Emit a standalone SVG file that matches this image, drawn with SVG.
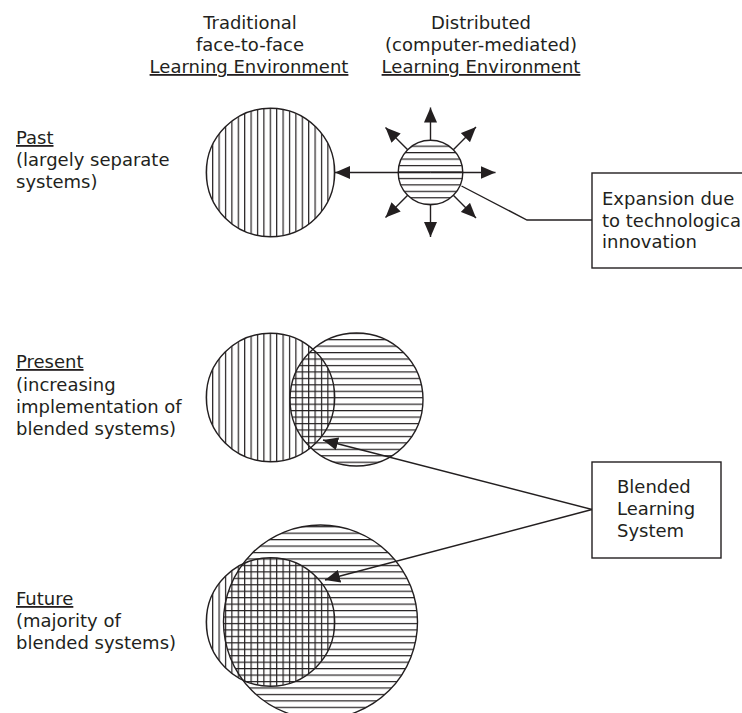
<svg xmlns="http://www.w3.org/2000/svg" width="742" height="713" viewBox="0 0 742 713">
<style>
text{font-family:"DejaVu Sans","Verdana",sans-serif;font-size:18px;fill:#231f20}
.c{text-anchor:middle}
.u{text-decoration:underline}
.ol{stroke:#231f20;stroke-width:1.4}
.ln{stroke:#231f20;stroke-width:1.4;fill:none}
.box{fill:#fff;stroke:#231f20;stroke-width:1.4}
</style>
<defs>
<pattern id="vl" patternUnits="userSpaceOnUse" x="218.5" y="0" width="6.4" height="10">
<rect x="0" y="0" width="1.2" height="10" fill="#231f20"/>
</pattern>
<pattern id="hl" patternUnits="userSpaceOnUse" x="0" y="171.4" width="10" height="6.45">
<rect x="0" y="0" width="10" height="1.2" fill="#231f20"/>
</pattern>
<marker id="ah" markerUnits="userSpaceOnUse" markerWidth="16" markerHeight="13" refX="15" refY="6.5" orient="auto">
<path d="M0,0 L15,6.5 L0,13 z" fill="#231f20"/>
</marker>
</defs>
<rect width="742" height="713" fill="#fff"/>

<g id="header-traditional">
<text class="c" x="250" y="29">Traditional</text>
<text class="c" x="250" y="51">face-to-face</text>
<text class="c u" x="249" y="73">Learning Environment</text>
</g>
<g id="header-distributed">
<text class="c" x="481" y="29">Distributed</text>
<text class="c" x="481" y="51">(computer-mediated)</text>
<text class="c u" x="481" y="73">Learning Environment</text>
</g>

<g id="label-past">
<text class="u" x="16" y="144">Past</text>
<text x="16" y="166">(largely separate</text>
<text x="16" y="188">systems)</text>
</g>
<g id="label-present">
<text class="u" x="16" y="368">Present</text>
<text x="16" y="390.5">(increasing</text>
<text x="16" y="413">implementation of</text>
<text x="16" y="435">blended systems)</text>
</g>
<g id="label-future">
<text class="u" x="16" y="605">Future</text>
<text x="16" y="627">(majority of</text>
<text x="16" y="649">blended systems)</text>
</g>

<g id="past-traditional">
<circle class="ol" cx="270.5" cy="172.5" r="64.2" fill="url(#vl)"/>
</g>
<g id="past-distributed">
<circle class="ol" cx="430.5" cy="172.5" r="32.3" fill="url(#hl)"/>
</g>

<g id="present-traditional">
<circle class="ol" cx="270.5" cy="397.5" r="64.2" fill="url(#vl)"/>
</g>
<g id="present-distributed">
<circle class="ol" cx="356.5" cy="399.5" r="66.5" fill="url(#hl)"/>
</g>

<g id="future-traditional">
<circle class="ol" cx="270.5" cy="622" r="64.2" fill="url(#vl)"/>
</g>
<g id="future-distributed">
<circle class="ol" cx="320.5" cy="622" r="97" fill="url(#hl)"/>
</g>

<g id="box-expansion">
<rect class="box" x="592" y="173" width="170" height="95"/>
<text x="602" y="205">Expansion due</text>
<text x="602" y="226.5">to technological</text>
<text x="602" y="248">innovation</text>
</g>
<g id="box-blended">
<rect class="box" x="592" y="462" width="129" height="96"/>
<text x="617" y="493">Blended</text>
<text x="617" y="515">Learning</text>
<text x="617" y="537">System</text>
</g>

<g id="connectors">
<line class="ln" x1="430.5" y1="172.5" x2="335" y2="172.5" marker-end="url(#ah)"/>
<line class="ln" x1="430.5" y1="172.5" x2="495.5" y2="172.5" marker-end="url(#ah)"/>
<line class="ln" x1="430.5" y1="140" x2="430.5" y2="107.5" marker-end="url(#ah)"/>
<line class="ln" x1="430.5" y1="205" x2="430.5" y2="237" marker-end="url(#ah)"/>
<line class="ln" x1="407.7" y1="149.7" x2="385.5" y2="127.5" marker-end="url(#ah)"/>
<line class="ln" x1="453.3" y1="149.7" x2="476" y2="127" marker-end="url(#ah)"/>
<line class="ln" x1="407.7" y1="195.3" x2="385.5" y2="217.5" marker-end="url(#ah)"/>
<line class="ln" x1="453.3" y1="195.3" x2="476" y2="218" marker-end="url(#ah)"/>
<polyline class="ln" points="461.5,186 527,220 592,220"/>
<line class="ln" x1="592" y1="509.5" x2="323" y2="440" marker-end="url(#ah)"/>
<line class="ln" x1="592" y1="509.5" x2="325" y2="580" marker-end="url(#ah)"/>
</g>
</svg>
